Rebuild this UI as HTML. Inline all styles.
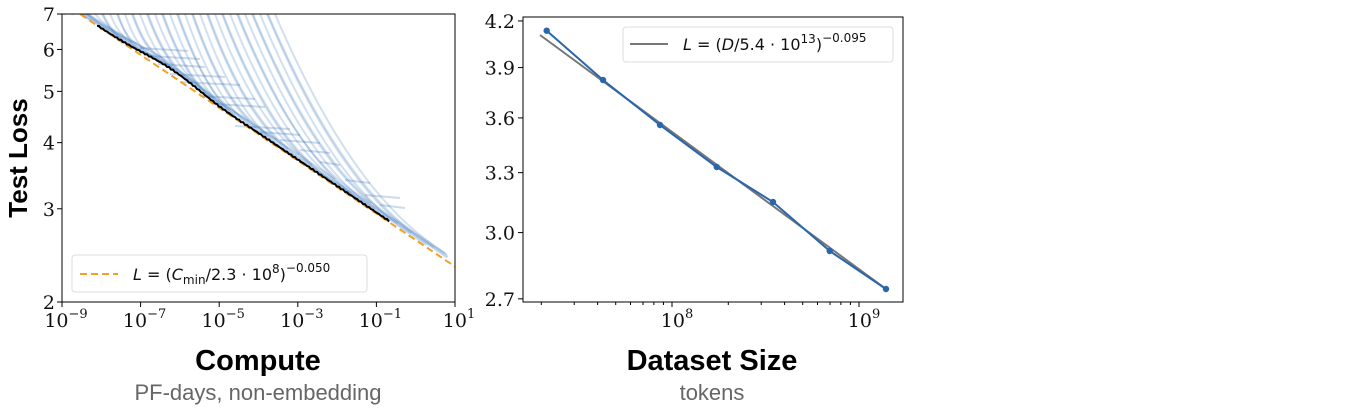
<!DOCTYPE html>
<html><head><meta charset="utf-8">
<style>
body{margin:0;background:#fff;width:1349px;height:410px;overflow:hidden}
svg{position:absolute;left:0;top:0}
.t{font-family:"DejaVu Serif","Liberation Serif",serif;font-size:19px;fill:#111}
.b{font-family:"Liberation Sans",sans-serif;font-weight:bold;fill:#000}
.g{font-family:"Liberation Sans",sans-serif;fill:#666;font-size:22px}
.l{font-family:"DejaVu Sans","Liberation Sans",sans-serif;font-size:16px;fill:#111}
</style></head><body>
<svg id="s" width="1349" height="410" xmlns="http://www.w3.org/2000/svg">
<defs><clipPath id="c1"><rect x="62" y="14" width="393" height="288"/></clipPath></defs>
<g id="blue" clip-path="url(#c1)"></g>
<g clip-path="url(#c1)"><path id="orange" fill="none" stroke="#f5a023" stroke-width="2" stroke-dasharray="7,4"/>
<path id="black" fill="none" stroke="#000" stroke-width="2"/></g>
<rect x="62" y="14" width="393" height="288" fill="none" stroke="#000" stroke-width="1"/>
<g id="ax1"></g>
<rect x="72" y="255" width="295" height="37" rx="3" fill="#fff" fill-opacity="0.85" stroke="#ddd"/>
<line x1="80" y1="274" x2="118" y2="274" stroke="#f5a023" stroke-width="2" stroke-dasharray="7,4"/>
<text class="l" x="133" y="280"><tspan font-style="italic">L</tspan> = (<tspan font-style="italic">C</tspan><tspan font-size="12" dy="4">min</tspan><tspan dy="-4">/2.3 · 10</tspan><tspan font-size="12" dy="-7">8</tspan><tspan dy="7">)</tspan><tspan font-size="12" dy="-8">−0.050</tspan></text>
<text class="b" font-size="26" transform="translate(27,158) rotate(-90)" text-anchor="middle">Test Loss</text>
<text class="b" font-size="29" x="258" y="370" text-anchor="middle">Compute</text>
<text class="g" x="258" y="400" text-anchor="middle">PF-days, non-embedding</text>

<rect x="523" y="17" width="380" height="285" fill="none" stroke="#000" stroke-width="1"/>
<g id="ax2"></g>
<line x1="540" y1="35" x2="886" y2="289" stroke="#777" stroke-width="2"/>
<polyline id="pts" fill="none" stroke="#2a66ad" stroke-width="2"/>
<g id="dots" fill="#2a66ad"></g>
<rect x="623" y="27" width="270" height="35" rx="3" fill="#fff" fill-opacity="0.85" stroke="#ddd"/>
<line x1="630" y1="44" x2="668" y2="44" stroke="#777" stroke-width="2"/>
<text class="l" x="683" y="50"><tspan font-style="italic">L</tspan> = (<tspan font-style="italic">D</tspan>/5.4 · 10<tspan font-size="12" dy="-7">13</tspan><tspan dy="7">)</tspan><tspan font-size="12" dy="-8">−0.095</tspan></text>
<text class="b" font-size="29" x="712" y="370" text-anchor="middle">Dataset Size</text>
<text class="g" x="712" y="400" text-anchor="middle">tokens</text>
</svg>
<script>
const NS="http://www.w3.org/2000/svg";
function el(p,t,a,txt){const e=document.createElementNS(NS,t);for(const k in a)e.setAttribute(k,a[k]);if(txt!==undefined)e.innerHTML=txt;p.appendChild(e);return e;}
const X=u=>62+(u+9)*39.3, Y=L=>302-288*Math.log(L/2)/1.2528;
const orange=u=>Math.pow(10,-0.05*(u-8.36));
let d="";for(let u=-9;u<=1.01;u+=0.1)d+=(d?"L":"M")+X(u).toFixed(1)+","+Y(orange(u)).toFixed(1);
document.getElementById("orange").setAttribute("d",d);
const front=u=>orange(u)*(1+0.028*Math.exp(-Math.pow((u+6.2)/1.0,2))+0.005*Math.max(0,Math.min(1,(u+5))));
const fy=x=>Y(front((x-62)/39.3-9));
d="";for(let x=97;x<=390;x+=2){let j=Math.sin(x*1.7)*0.6;d+=(d?"L":"M")+x+","+(fy(x)+j).toFixed(1);}
document.getElementById("black").setAttribute("d",d);
const bg=document.getElementById("blue");
const N=44;
for(let i=0;i<N;i++){
 let xs=58+i*(220/N)+((i*7)%3)*2;
 let slope=2.6-i*0.022;
 let off=1+((i*5)%4)*1.5;
 let G=fy(xs)-off-14;
 let L=Math.max(20,2.2*G/slope);
 let xe=Math.min(448, xs+L+15+((i*11)%5)*10);
 let p="";
 for(let x=xs-10;x<=xe;x+=2){
  let t=Math.max(0,1-(x-xs)/L);
  let y=fy(x)-off-G*Math.pow(t,2.2)*(x<xs?1+(xs-x)*slope/G:1);
  p+=(p?"L":"M")+x.toFixed(1)+","+y.toFixed(1);
 }
 el(bg,"path",{d:p,fill:"none",stroke:"#2f6db5","stroke-opacity":0.22,"stroke-width":2});
}
[[140,48,188],[150,56,200],[158,64,205],[170,74,225],[180,82,240],[200,96,255],[215,104,265],[235,126,290],[260,132,300],[280,140,320],[300,150,330],[320,162,340],[345,180,370],[365,195,400],[380,205,405]].forEach(([x1,y,x2])=>{
 el(bg,"line",{x1:x1,x2:x2,y1:y,y2:y+3,stroke:"#2f6db5","stroke-opacity":0.25,"stroke-width":2});
});
const a1=document.getElementById("ax1");
[[-9,"−9"],[-7,"−7"],[-5,"−5"],[-3,"−3"],[-1,"−1"],[1,"1"]].forEach(([u,t])=>{
 el(a1,"line",{x1:X(u),x2:X(u),y1:302,y2:307,stroke:"#000"});
 el(a1,"text",{class:"t",x:X(u)+4,y:327,"text-anchor":"middle"},"10<tspan font-size='13' dy='-9'>"+t+"</tspan>");
});
[2,3,4,5,6,7].forEach(L=>{el(a1,"line",{x1:57,x2:62,y1:Y(L),y2:Y(L),stroke:"#000"});
 el(a1,"text",{class:"t",x:55,y:Y(L)+7,"text-anchor":"end"},L);});
const a2=document.getElementById("ax2");
const Y2=v=>21+629*(1.435-Math.log(v)), X2=u=>672+(u-8)*187;
[2.7,3.0,3.3,3.6,3.9,4.2].forEach(v=>{el(a2,"line",{x1:518,x2:523,y1:Y2(v),y2:Y2(v),stroke:"#000"});
 el(a2,"text",{class:"t",x:515,y:Y2(v)+7,"text-anchor":"end"},v.toFixed(1));});
[[8,"8"],[9,"9"]].forEach(([u,t])=>{
 el(a2,"line",{x1:X2(u),x2:X2(u),y1:302,y2:307,stroke:"#000"});
 el(a2,"text",{class:"t",x:X2(u)+5,y:327,"text-anchor":"middle"},"10<tspan font-size='13' dy='-9'>"+t+"</tspan>");});
for(let e=7;e<=9;e++)for(let m=2;m<10;m++){let x=X2(e+Math.log10(m));if(x>523&&x<903)el(a2,"line",{x1:x,x2:x,y1:302,y2:305,stroke:"#000"});}
const P=[[546.7,30.7],[603,80],[660,125],[716.7,167],[773,202],[829.7,251],[886,289]];
document.getElementById("pts").setAttribute("points",P.map(p=>p.join(",")).join(" "));
const dg=document.getElementById("dots");P.forEach(p=>el(dg,"circle",{cx:p[0],cy:p[1],r:3.2}));
</script>
</body></html>
